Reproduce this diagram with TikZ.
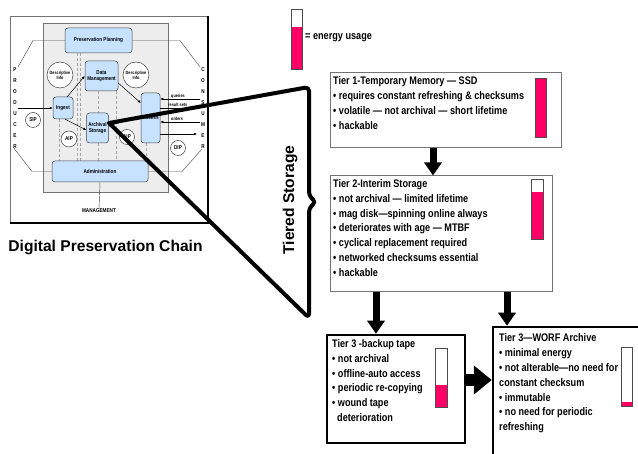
\documentclass[tikz,border=0pt]{standalone}
\usepackage{fontspec}
\setmainfont{Liberation Sans}
\newfontfamily\nf[FakeStretch=0.83]{Liberation Sans}
\usetikzlibrary{arrows.meta,calc}
\definecolor{lblue}{RGB}{198,226,255}
\definecolor{epink}{RGB}{255,0,102}
\newcommand\tierf{\nf\bfseries\fontsize{11}{13}\selectfont}
\newcommand\tinyf{\nf\bfseries\fontsize{5.6}{6.2}\selectfont}
\newcommand\microf{\nf\bfseries\fontsize{4.6}{5}\selectfont}
\newcommand\bigf{\bfseries\fontsize{15.6}{18}\selectfont}
\newcommand\ebar[5]{\fill[white] (#1,#2) rectangle (#3,#4); \fill[epink] (#1,#5) rectangle (#3,#4); \draw[bar] (#1,#2) rectangle (#3,#4);}
\begin{document}
\begin{tikzpicture}[x=1pt,y=-1pt,
 oaisbox/.style={draw=black!75, fill=lblue, rounded corners=3pt, line width=0.5pt, inner sep=0pt, font=\tinyf, align=center},
 oaiscirc/.style={circle, draw=black!75, fill=white, line width=0.5pt, inner sep=0pt, font=\microf, align=center},
 thinarr/.style={-{Latex[length=3pt,width=2.6pt]}, line width=0.5pt},
 thinln/.style={line width=0.45pt, black!70},
 dashln/.style={gray!70, line width=0.5pt, dash pattern=on 3pt off 2pt},
 tierbox/.style={draw=black!55, line width=1pt, fill=white, inner sep=0pt},
 tierthree/.style={draw=black, line width=2.5pt, fill=white, inner sep=0pt},
 tt/.style={font=\tierf, inner sep=0pt, anchor=base west},
 letter/.style={font=\tinyf, inner sep=0pt},
 bigarr/.style={line width=7pt, -{Triangle[length=13pt,width=17pt]}},
 heavy/.style={line width=4pt, line join=round, line cap=round, rounded corners=4pt},
 bar/.style={draw=black!70, line width=0.8pt},
]
\useasboundingbox (0,0) rectangle (638,454);
\clip (0,0) rectangle (638,454);

% ---------- OAIS diagram ----------
\draw[black!55, line width=0.8pt] (10,16) rectangle (208,223);
\draw[black, line width=2.2pt] (208,16) -- (208,223) -- (10,223);
\draw[black!55, fill=gray!14, line width=0.5pt] (43,23) rectangle (168,192);

% dashed guide lines
\draw[dashln] (77,53) -- (77,161);
\draw[dashln] (80,53) -- (80,161);
\draw[dashln] (59,119) -- (59,161);
\draw[dashln] (98,91) -- (98,113);
\draw[dashln] (98,143) -- (98,161);
\draw[dashln] (116,91) -- (116,161);
\draw[dashln] (146,143) -- (146,161);

\node[oaisbox, minimum width=67pt, minimum height=25pt] (pp) at (98.5,40.5) {Preservation Planning};
\node[oaisbox, minimum width=33pt, minimum height=30pt] (dm) at (101.5,76) {Data\\Management};
\node[oaisbox, minimum width=20pt, minimum height=22pt] (ing) at (63,108) {Ingest};
\node[oaisbox, minimum width=22pt, minimum height=30pt] (as) at (97.5,128) {Archival\\Storage};
\node[oaisbox, minimum width=19pt, minimum height=50pt] (acc) at (150.5,118) {Access};
\node[oaisbox, minimum width=96pt, minimum height=21pt] (adm) at (100,171.5) {Administration};
\node[oaiscirc, minimum size=26pt] (di1) at (60,75) {Descriptive\\Info};
\node[oaiscirc, minimum size=26pt] (di2) at (136,75) {Descriptive\\Info};
\node[oaiscirc, minimum size=15pt, font=\tinyf] (sip) at (33,120) {SIP};
\node[oaiscirc, minimum size=16pt, font=\tinyf] (aip) at (69,139) {AIP};
\node[oaiscirc, minimum size=15pt, font=\tinyf] (aipb) at (127,137) {AIP};
\node[oaiscirc, minimum size=15pt, font=\tinyf] (dip) at (178,148) {DIP};

% producer / consumer / management
\foreach \l [count=\i] in {P,R,O,D,U,C,E,R} \node[letter] (pr\i) at (15,{70+(\i-1)*11}) {\l};
\foreach \l [count=\i] in {C,O,N,S,U,M,E,R} \node[letter] (co\i) at (203,{70+(\i-1)*11}) {\l};
\node[font=\tinyf, inner sep=0pt] (mgmt) at (99,211) {MANAGEMENT};
\draw[thinln] (adm.south) -- (mgmt.north);

\coordinate (pt1) at (33,40.5); \coordinate (pt2) at (18,67);
\coordinate (pb1) at (32,171.5); \coordinate (pb2) at (13,147);
\coordinate (ct1) at (180,40.5); \coordinate (ct2) at (200,67);
\coordinate (cb1) at (182,171.5); \coordinate (cb2) at (202,149);
\draw[thinln] (pp.west) -- (pt1) -- (pt2);
\draw[thinln] (adm.west) -- (pb1) -- (pb2);
\draw[thinln] (pp.east) -- (ct1) -- (ct2);
\draw[thinln] (adm.east) -- (cb1) -- (cb2);

% internal arrows
\coordinate (prodin) at (18,108);
\draw[thinarr] (prodin) -- (ing.west);
\draw[thinarr] ($(ing.north east)+(-6,0)$) -- (dm.west);
\draw[thinarr] ($(ing.south east)+(-8,0)$) -- ($(as.west)+(0,2)$);
\draw[thinarr] ($(dm.east)+(0,7)$) -- ($(acc.west)+(0,-15)$);
\draw[thinarr] ($(as.east)+(0,-2)$) -- ($(acc.west)+(0,-2)$);

\coordinate (q) at (200,99); \coordinate (rs) at (200,108);
\coordinate (od) at (200,122); \coordinate (dp) at (197,134);
\draw[thinarr] (q) -- (q -| acc.east);
\draw[thinarr] (rs -| acc.east) -- (rs);
\draw[thinarr] (od) -- (od -| acc.east);
\draw[thinarr] (dp -| acc.east) -- (dp);
\node[font=\microf, inner sep=0pt, anchor=base west] (ql) at (171,97.3) {queries};
\node[font=\microf, inner sep=0pt, anchor=base west] (rsl) at (168,106.3) {result sets};
\node[font=\microf, inner sep=0pt, anchor=base west] (odl) at (171,120.3) {orders};

% ---------- heavy bracket ----------
\coordinate (conv) at (109,123);
\draw[heavy] (conv) -- (309,87) -- (309,196) -- (316,202) -- (309,208) -- (309,318) -- (conv);
\node[font=\bigf, rotate=90, inner sep=0pt] (ts) at (290,200) {Tiered Storage};
\node[font=\bigf, inner sep=0pt] (dpc) at (105.5,248) {Digital Preservation Chain};

% ---------- legend ----------
\ebar{291}{9}{302}{69}{27}
\node[font=\tierf, inner sep=0pt, anchor=west] (leg) at (305,38) {= energy usage};

% ---------- tiers ----------
\node[tierbox, minimum width=231pt, minimum height=75pt] (t1) at (445.5,110.5) {};
\node[tierbox, minimum width=222pt, minimum height=116pt] (t2) at (441,234) {};
\node[tierthree, minimum width=138pt, minimum height=108pt] (t3) at (396,389) {};
\node[tierthree, minimum width=200pt, minimum height=160pt] (t4) at (593,407) {};

\ebar{535}{78}{546}{137}{78}
\ebar{531}{179}{543}{239}{192}
\ebar{435}{348}{447}{407}{385}
\ebar{621}{347}{632}{406}{402}

\foreach \txt [count=\i] in {{Tier 1-Temporary Memory — SSD},{• requires constant refreshing \& checksums},{• volatile — not archival — short lifetime},{• hackable}}
  \node[tt] (t1l\i) at (333,{85+(\i-1)*15}) {\txt};
\foreach \txt [count=\i] in {{Tier 2-Interim Storage},{• not archival — limited lifetime},{• mag disk—spinning online always},{• deteriorates with age — MTBF},{• cyclical replacement required},{• networked checksums essential},{• hackable}}
  \node[tt] (t2l\i) at (333,{187.5+(\i-1)*14.8}) {\txt};
\foreach \txt [count=\i] in {{Tier 3 -backup tape},{• not archival},{• offline-auto access},{• periodic re-copying},{• wound tape}}
  \node[tt] (t3l\i) at (332,{347.5+(\i-1)*14.8}) {\txt};
\node[tt] (t3l6) at (337,421.5) {deterioration};
\foreach \txt [count=\i] in {{Tier 3—WORF Archive},{• minimal energy},{• not alterable—no need for},{constant checksum},{• immutable},{• no need for periodic},{refreshing}}
  \node[tt] (t4l\i) at (499,{341.5+(\i-1)*14.9}) {\txt};

% ---------- block arrows ----------
\coordinate (a1) at (433,148);
\coordinate (a2) at (376,292);
\coordinate (a3) at (507,292);
\coordinate (a4) at (465,380);
\draw[bigarr] (a1) -- (a1 |- t2.north);
\draw[bigarr] (a2) -- (a2 |- t3.north);
\draw[bigarr] (a3) -- (a3 |- t4.north);
\draw[line width=12pt, -{Triangle[length=18pt,width=28pt]}] (a4) -- (a4 -| t4.west);
\end{tikzpicture}
\end{document}
